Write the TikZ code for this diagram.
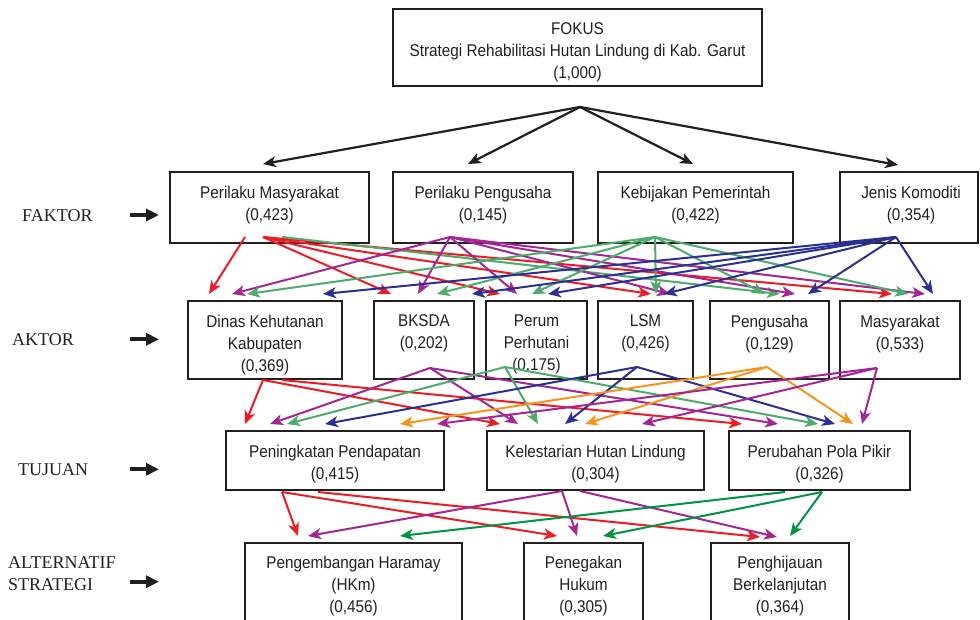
\documentclass[tikz,border=0pt]{standalone}
\usepackage{fontspec}
\setmainfont{Liberation Sans}[FakeStretch=0.9]
\newfontfamily\labelfont{Liberation Serif}
\usetikzlibrary{arrows.meta}
\definecolor{ink}{RGB}{35,31,32}
\definecolor{cRed}{RGB}{237,28,36}
\definecolor{cPurple}{RGB}{163,38,148}
\definecolor{cGreen}{RGB}{76,172,108}
\definecolor{cBlue}{RGB}{42,48,145}
\definecolor{cOrange}{RGB}{247,148,30}
\definecolor{cDkGreen}{RGB}{0,148,68}
\begin{document}
\begin{tikzpicture}[x=1pt,y=-1pt,
  box/.style={draw=ink, line width=1.6pt, inner sep=0pt},
  txt/.style={text=ink, align=center, inner sep=0pt, font=\fontsize{17}{22}\selectfont},
  side/.style={text=ink, inner sep=0pt, font=\labelfont\fontsize{18}{22}\selectfont},
  link/.style={line width=2pt, -{Stealth[length=13pt,width=11pt,inset=3.5pt]}},
  blk/.style={link, ink, line width=2.2pt},
  pointer/.style={ink, line width=4pt, -{Triangle[length=13pt,width=12pt]}},
]
\useasboundingbox (0,0) rectangle (980,619);
\clip (0,0) rectangle (980,619);

% ---- boxes -------------------------------------------------------------
\node[box, minimum width=369, minimum height=77] (fokus) at (577.5,47.5) {};
\node[txt] (fokus-t) at (577.5,52.75) {FOKUS\\Strategi Rehabilitasi Hutan Lindung di Kab. Garut\\(1,000)};

% factors
\node[box, minimum width=199, minimum height=71] (pm) at (269.5,207.5) {};
\node[box, minimum width=180, minimum height=71] (pp) at (483,207.5) {};
\node[box, minimum width=195, minimum height=71] (kp) at (695.5,207.5) {};
\node[box, minimum width=138, minimum height=71] (jk) at (909,207.5) {};
\node[txt] (pm-t) at (269.5,204.75) {Perilaku Masyarakat\\(0,423)};
\node[txt] (pp-t) at (483,204.75) {Perilaku Pengusaha\\(0,145)};
\node[txt] (kp-t) at (695.5,204.75) {Kebijakan Pemerintah\\(0,422)};
\node[txt] (jk-t) at (911,204.75) {Jenis Komoditi\\(0,354)};

% actors
\node[box, minimum width=154, minimum height=78] (dinas) at (265,340) {};
\node[box, minimum width=100, minimum height=78] (bksda) at (424,340) {};
\node[box, minimum width=101, minimum height=78] (perum) at (536.5,340) {};
\node[box, minimum width=95, minimum height=78] (lsm) at (645.5,340) {};
\node[box, minimum width=119, minimum height=78] (peng) at (769.5,340) {};
\node[box, minimum width=120, minimum height=78] (masy) at (900,340) {};
\node[txt] (dinas-t) at (265,344.75) {Dinas Kehutanan\\Kabupaten\\(0,369)};
\node[txt] (bksda-t) at (424,333.75) {BKSDA\\(0,202)};
\node[txt] (perum-t) at (536.5,344.75) {Perum\\Perhutani\\(0,175)};
\node[txt] (lsm-t) at (645.5,333.75) {LSM\\(0,426)};
\node[txt] (peng-t) at (769.5,333.75) {Pengusaha\\(0,129)};
\node[txt] (masy-t) at (900,333.75) {Masyarakat\\(0,533)};

% goals
\node[box, minimum width=218, minimum height=59] (pend) at (335,460.5) {};
\node[box, minimum width=217, minimum height=59] (lest) at (595.5,460.5) {};
\node[box, minimum width=181, minimum height=59] (pola) at (819.5,460.5) {};
\node[txt] (pend-t) at (335,463.75) {Peningkatan Pendapatan\\(0,415)};
\node[txt] (lest-t) at (595.5,463.75) {Kelestarian Hutan Lindung\\(0,304)};
\node[txt] (pola-t) at (819.5,463.75) {Perubahan Pola Pikir\\(0,326)};

% strategy alternatives
\node[box, minimum width=217, minimum height=84] (hkm) at (353.5,585) {};
\node[box, minimum width=119, minimum height=84] (hukum) at (583.5,585) {};
\node[box, minimum width=138, minimum height=84] (hijau) at (780,585) {};
\node[txt] (hkm-t) at (353.5,586.25) {Pengembangan Haramay\\(HKm)\\(0,456)};
\node[txt] (hukum-t) at (583.5,586.25) {Penegakan\\Hukum\\(0,305)};
\node[txt] (hijau-t) at (780,586.25) {Penghijauan\\Berkelanjutan\\(0,364)};

% ---- level labels --------------------------------------------------------
\node[side, anchor=base west] (lfaktor) at (22,221) {FAKTOR};
\node[side, anchor=base west] (laktor) at (12,345) {AKTOR};
\node[side, anchor=base west] (ltujuan) at (18,475.5) {TUJUAN};
\node[side, anchor=north west, align=left] (lalt) at (8,556.2) {ALTERNATIF\\STRATEGI};
\foreach \n/\y in {f/215, a/339.3, t/469.3, s/581.7}{
  \coordinate (p\n0) at (130,\y);
  \coordinate (p\n1) at (159,\y);
  \draw[pointer] (p\n0) -- (p\n1);
}

% ---- focus to factors ----------------------------------------------------
\coordinate (fo) at (580,107);
\coordinate (fpm) at (263,164);
\coordinate (fpp) at (468,164);
\coordinate (fkp) at (693,164);
\coordinate (fjk) at (898,165);
\foreach \t in {fpm,fpp,fkp,fjk} \draw[blk] (fo) -- (\t);

% ---- factors to actors ---------------------------------------------------
\coordinate (pmA) at (245,237);
\coordinate (pmB) at (263,237);
\coordinate (pmC) at (282,237);
\coordinate (ppS) at (450,237);
\coordinate (kpS) at (655,237);
\coordinate (jkS) at (896,237);

\coordinate (pmT1) at (209,294);
\draw[link, cRed] (pmA) -- (pmT1);
\foreach \i/\x in {2/391,3/500,4/651,5/892}{
  \coordinate (pmT\i) at (\x,294);
  \draw[link, cRed] (pmB) -- (pmT\i);
}
\coordinate (pmT6) at (780,294);
\draw[link, cGreen] (pmC) -- (pmT6);

\foreach \i/\x in {1/232,2/418,3/517,4/670,5/795,6/925}{
  \coordinate (ppT\i) at (\x,294);
  \draw[link, cPurple] (ppS) -- (ppT\i);
}
\foreach \i/\x in {1/247,2/437,3/532,4/656,5/765,6/908}{
  \coordinate (kpT\i) at (\x,294);
  \draw[link, cGreen] (kpS) -- (kpT\i);
}
\foreach \i/\x in {1/323,2/472,3/548,4/664,5/808,6/933}{
  \coordinate (jkT\i) at (\x,294);
  \draw[link, cBlue] (jkS) -- (jkT\i);
}

% ---- actors to goals -----------------------------------------------------
\coordinate (dA) at (263,380);
\coordinate (dB) at (282,380);
\coordinate (bS) at (430,368);
\coordinate (peS) at (505,367);
\coordinate (lS) at (637,367);
\coordinate (pgS) at (767,367);
\coordinate (mS) at (877,368);

\coordinate (dT1) at (245,424);
\coordinate (dT2) at (500,424);
\coordinate (dT3) at (742,424);
\draw[link, cRed] (dA) -- (dT1);
\draw[link, cRed] (dA) -- (dT2);
\draw[link, cRed] (dB) -- (dT3);
\foreach \i/\x in {1/270,2/518,3/778}{
  \coordinate (bT\i) at (\x,424);
  \draw[link, cPurple] (bS) -- (bT\i);
}
\foreach \i/\x in {1/287,2/538,3/818}{
  \coordinate (peT\i) at (\x,424);
  \draw[link, cGreen] (peS) -- (peT\i);
}
\foreach \i/\x in {1/325,2/565,3/835}{
  \coordinate (lT\i) at (\x,424);
  \draw[link, cBlue] (lS) -- (lT\i);
}
\foreach \i/\x in {1/400,2/585,3/853}{
  \coordinate (pgT\i) at (\x,424);
  \draw[link, cOrange] (pgS) -- (pgT\i);
}
\foreach \i/\x in {1/437,2/642,3/862}{
  \coordinate (mT\i) at (\x,424);
  \draw[link, cPurple] (mS) -- (mT\i);
}

% ---- goals to strategy alternatives ----------------------------------------
\coordinate (tA) at (282,492);
\coordinate (tB) at (318,492);
\coordinate (kA) at (562,491);
\coordinate (kB) at (580,491);
\coordinate (gA) at (822,492);
\coordinate (gB) at (785,492);

\coordinate (tT1) at (298,536);
\coordinate (tT2) at (557,536);
\coordinate (tT3) at (760,537);
\draw[link, cRed] (tA) -- (tT1);
\draw[link, cRed] (tA) -- (tT2);
\draw[link, cRed] (tB) -- (tT3);

\coordinate (kT1) at (308,536);
\coordinate (kT2) at (577,536);
\coordinate (kT3) at (777,537);
\draw[link, cPurple] (kA) -- (kT1);
\draw[link, cPurple] (kA) -- (kT2);
\draw[link, cPurple] (kB) -- (kT3);

\coordinate (gT1) at (400,536);
\coordinate (gT2) at (603,536);
\coordinate (gT3) at (790,536);
\draw[link, cDkGreen] (gB) -- (gT1);
\draw[link, cDkGreen] (gA) -- (gT2);
\draw[link, cDkGreen] (gA) -- (gT3);
\end{tikzpicture}
\end{document}
